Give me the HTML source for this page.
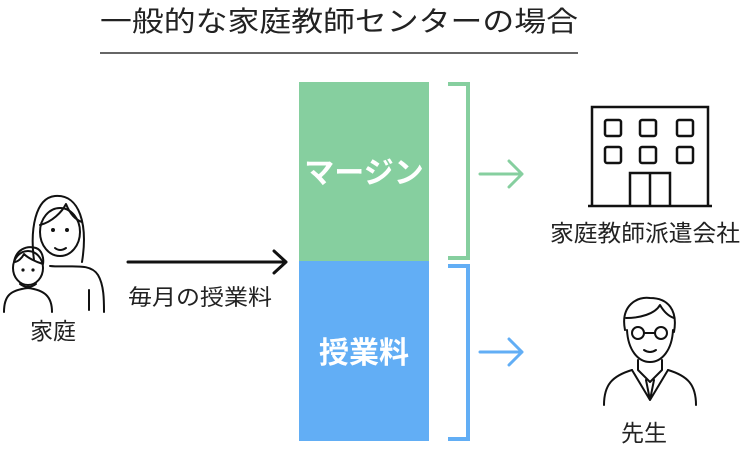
<!DOCTYPE html>
<html><head><meta charset="utf-8"><style>
body{margin:0;width:748px;height:448px;background:#fff;overflow:hidden;font-family:"Liberation Sans","Noto Sans CJK JP",sans-serif;}
</style></head><body>
<svg width="748" height="448" viewBox="0 0 748 448" xmlns="http://www.w3.org/2000/svg" font-family="Liberation Sans, Noto Sans CJK JP, sans-serif">
<text x="100" y="31" font-size="28" textLength="478" lengthAdjust="spacingAndGlyphs" fill="#222">一般的な家庭教師センターの場合</text>
<line x1="100" y1="53" x2="578" y2="53" stroke="#333" stroke-width="1.5"/>
<rect x="299" y="82" width="130" height="179" fill="#86cf9f"/>
<rect x="299" y="261" width="130" height="180" fill="#62aef5"/>
<text x="364" y="183" font-size="30" font-weight="bold" fill="#fff" text-anchor="middle">マージン</text>
<text x="364" y="363" font-size="30" font-weight="bold" fill="#fff" text-anchor="middle">授業料</text>
<path d="M448 84H468V258H448" fill="none" stroke="#86cf9f" stroke-width="4"/>
<path d="M448 266H468V439H448" fill="none" stroke="#62aef5" stroke-width="4"/>
<g fill="none" stroke-width="3" stroke-linecap="round" stroke-linejoin="round">
<path d="M480 174H522M509 161L522 174L509 187" stroke="#86cf9f"/>
<path d="M480 352H522M509 339L522 352L509 365" stroke="#62aef5"/>
<path d="M128 262H286M274 251L286 262L274 273" stroke="#111"/>
</g>
<text x="128" y="305" font-size="22" textLength="144" lengthAdjust="spacingAndGlyphs" fill="#222">毎月の授業料</text>
<text x="53" y="339" font-size="23" fill="#222" text-anchor="middle">家庭</text>
<text x="645" y="241" font-size="23" textLength="190" lengthAdjust="spacingAndGlyphs" fill="#222" text-anchor="middle">家庭教師派遣会社</text>
<text x="644" y="441" font-size="23" fill="#222" text-anchor="middle">先生</text>
<g fill="none" stroke="#111" stroke-width="2.5">
<path d="M592 206V107H708V206"/><line x1="588" y1="206" x2="712" y2="206"/>
<rect x="605" y="120" width="16" height="16" rx="2"/><rect x="640" y="120" width="16" height="16" rx="2"/><rect x="677" y="120" width="16" height="16" rx="2"/>
<rect x="605" y="147" width="16" height="16" rx="2"/><rect x="640" y="147" width="16" height="16" rx="2"/><rect x="677" y="147" width="16" height="16" rx="2"/>
<path d="M630 206V173H670V206M650 173V206"/>
</g>
<g fill="none" stroke="#111" stroke-width="2" stroke-linecap="round" stroke-linejoin="round">
<path d="M34 260C30 230 35 198 55 196C80 194 88 225 82 262"/>
<path d="M40 225C52 222 62 212 66 204C70 214 76 220 82 222"/>
<ellipse cx="60" cy="232" rx="20" ry="24"/>
<path d="M55 248Q60 252 66 248"/>
<path d="M50 266C70 268 90 262 98 275C104 285 104 300 104 312"/>
<path d="M89 290V310"/>
<ellipse cx="28" cy="268" rx="15" ry="17"/>
<path d="M14 262C16 250 26 245 36 248C42 250 44 258 43 264C36 262 28 258 24 254C22 258 18 262 14 262"/>
<path d="M4 312C4 296 10 290 28 288C44 290 52 296 52 312"/>
<path d="M20 284Q28 290 36 284"/>
</g>
<g fill="#111"><circle cx="53" cy="230" r="2"/><circle cx="67" cy="230" r="2"/><circle cx="23" cy="270" r="1.6"/><circle cx="33" cy="270" r="1.6"/></g>
<g fill="none" stroke="#111" stroke-width="2" stroke-linecap="round" stroke-linejoin="round">
<path d="M625 330C620 305 638 296 650 298C668 298 678 310 674 332"/>
<path d="M626 318C640 318 655 314 660 305C664 312 668 316 674 318"/>
<path d="M627 330C628 350 638 362 650 362C662 362 672 350 673 330"/>
<circle cx="638" cy="333" r="6"/><circle cx="661" cy="333" r="6"/><path d="M644 333H655"/>
<path d="M644 350Q650 354 656 350"/>
<path d="M638 360V370L650 382L662 370V360"/>
<path d="M604 405C604 385 612 376 632 370M696 405C696 385 688 376 668 370"/>
<path d="M632 370L650 400L668 370M646 380L650 400L654 380"/>
</g>
</svg>
</body></html>
